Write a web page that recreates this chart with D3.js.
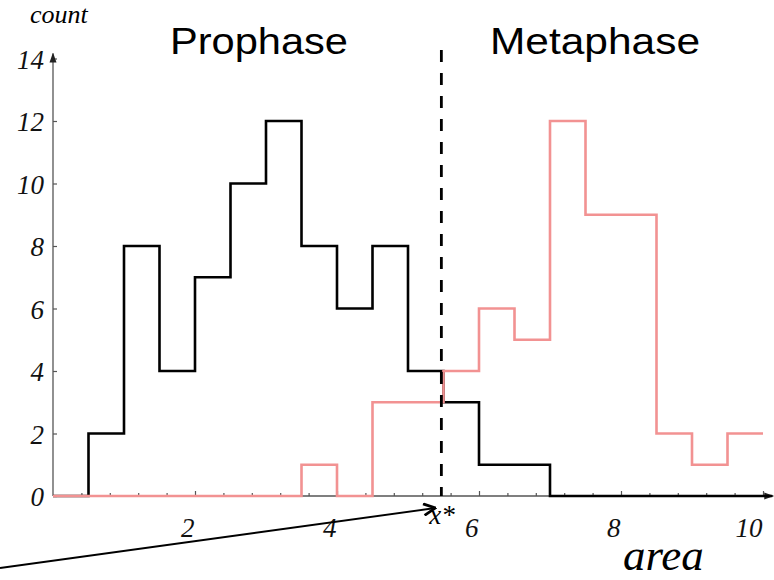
<!DOCTYPE html>
<html>
<head>
<meta charset="utf-8">
<script src="https://cdn.jsdelivr.net/npm/d3@7"></script>
<style>
  body { margin: 0; background: #fff; }
  svg { display: block; }
  .tick text { font-family: "Liberation Serif", "Times New Roman", serif; font-style: italic; font-size: 27px; fill: #111; }
  .tick line { stroke: #555; stroke-width: 1.2; }
</style>
</head>
<body>
<div id="viz"></div>
<script>
// Histograma de áreas: profase vs metafase
let w = 774;
let h = 580;

// bordes de los bins (ancho 0.5)
let binEdges = [0, 0.5, 1, 1.5, 2, 2.5, 3, 3.5, 4, 4.5, 5, 5.5, 6, 6.5, 7, 7.5, 8, 8.5, 9, 9.5, 10];
let profase  = [0, 2, 8, 4, 7, 10, 12, 8, 6, 8, 4, 3, 1, 1, 0, 0, 0, 0, 0, 0];
let metafase = [0, 0, 0, 0, 0, 0, 0, 1, 0, 3, 3, 4, 6, 5, 12, 9, 9, 2, 1, 2];

let xTicksMayores = [2, 4, 6, 8, 10];
let xTicksMenores = [0.4, 0.8, 1.2, 1.6, 2.4, 2.8, 3.2, 3.6, 4.4, 4.8, 5.2, 5.6, 6.4, 6.8, 7.2, 7.6, 8.4, 8.8, 9.2, 9.6];
let yTicks = [0, 2, 4, 6, 8, 10, 12, 14];
let xEstrella = 5.47;

let svg = d3.select('#viz')
    .append('svg')
        .attr('width', w)
        .attr('height', h);

let x = d3.scaleLinear().domain([0, 10]).range([53, 763]);
let y = d3.scaleLinear().domain([0, 14]).range([496, 58.5]);
let xFin = 10.13;

// puntas de flecha
let defs = svg.append('defs');
defs.append('marker')
    .attr('id', 'punta')
    .attr('viewBox', '0 0 10 10')
    .attr('refX', 9).attr('refY', 5)
    .attr('markerWidth', 10).attr('markerHeight', 10)
    .attr('markerUnits', 'userSpaceOnUse')
    .attr('orient', 'auto')
    .append('path')
        .attr('d', 'M0,1.5 L10,5 L0,8.5 Z')
        .attr('fill', '#222');
defs.append('marker')
    .attr('id', 'chevron')
    .attr('viewBox', '0 0 12 12')
    .attr('refX', 11).attr('refY', 6)
    .attr('markerWidth', 14).attr('markerHeight', 14)
    .attr('markerUnits', 'userSpaceOnUse')
    .attr('orient', 'auto')
    .append('path')
        .attr('d', 'M1,1 L11,6 L1,11')
        .attr('fill', 'none')
        .attr('stroke', '#000')
        .attr('stroke-width', 2.4);

// Eje Y
svg.append('g')
    .attr('transform', `translate(${x(0)},0)`)
    .call(d3.axisLeft(y).tickValues(yTicks).tickSize(-4).tickPadding(9).tickFormat(d3.format('d')))
    .call(g => g.select('.domain').remove())
    .selectAll('text').attr('dy', '0.36em');

svg.append('line')
    .attr('x1', x(0)).attr('y1', y(0))
    .attr('x2', x(0)).attr('y2', y(14) - 5)
    .attr('stroke', '#555').attr('stroke-width', 1.3)
    .attr('marker-end', 'url(#punta)');

// Eje X: ticks menores y mayores
svg.append('g')
    .attr('transform', `translate(0,${y(0)})`)
    .call(d3.axisBottom(x).tickValues(xTicksMenores).tickSize(-3).tickFormat(''))
    .call(g => g.select('.domain').remove());

svg.append('g')
    .attr('transform', `translate(0,${y(0)})`)
    .call(d3.axisBottom(x).tickValues(xTicksMayores).tickSize(-5).tickPadding(22).tickFormat(d3.format('d')))
    .call(g => g.select('.domain').remove())
    .selectAll('text')
        .attr('text-anchor', 'end')
        .attr('dx', '-1');

svg.append('line')
    .attr('x1', x(0)).attr('y1', y(0))
    .attr('x2', x(xFin) + 1).attr('y2', y(0))
    .attr('stroke', '#555').attr('stroke-width', 1.3)
    .attr('marker-end', 'url(#punta)');

let escalon = d3.line()
    .x(d => x(d[0]))
    .y(d => y(d[1]))
    .curve(d3.curveStepAfter);

// Profase (negro)
let puntosProfase = profase.map((c, i) => [binEdges[i], c]);
puntosProfase.push([xFin, 0]);
svg.append('path')
    .datum(puntosProfase)
    .attr('d', escalon)
    .attr('fill', 'none')
    .attr('stroke', '#000')
    .attr('stroke-width', 2.6);

// Metafase (rojo claro)
let puntosMetafase = metafase.map((c, i) => [binEdges[i], c]);
puntosMetafase.push([binEdges[binEdges.length - 1], metafase[metafase.length - 1]]);
svg.append('path')
    .datum(puntosMetafase)
    .attr('d', escalon)
    .attr('fill', 'none')
    .attr('stroke', '#f29292')
    .attr('stroke-width', 2.6);

// Línea de corte x*
svg.append('line')
    .attr('x1', x(xEstrella)).attr('y1', 50)
    .attr('x2', x(xEstrella)).attr('y2', y(0))
    .attr('stroke', '#000')
    .attr('stroke-width', 2.8)
    .attr('stroke-dasharray', '12,11');

// Flecha de anotación hacia x*
svg.append('line')
    .attr('x1', 0).attr('y1', 568)
    .attr('x2', x(xEstrella) - 6).attr('y2', y(0) + 12)
    .attr('stroke', '#000')
    .attr('stroke-width', 1.8)
    .attr('marker-end', 'url(#chevron)');

svg.append('text')
    .attr('x', x(xEstrella) - 12).attr('y', 524)
    .style('font-family', '"Liberation Serif", "Times New Roman", serif')
    .style('font-style', 'italic')
    .style('font-size', '27px')
    .text('x*');

// Etiquetas de ejes
svg.append('text')
    .attr('x', 30).attr('y', 23)
    .style('font-family', '"Liberation Serif", "Times New Roman", serif')
    .style('font-style', 'italic')
    .style('font-size', '26px')
    .text('count');

svg.append('text')
    .attr('x', 623).attr('y', 570)
    .style('font-family', '"Liberation Serif", "Times New Roman", serif')
    .style('font-style', 'italic')
    .style('font-size', '45px')
    .text('area');

// Títulos de las fases
svg.append('text')
    .attr('x', 170).attr('y', 54)
    .attr('textLength', 178)
    .attr('lengthAdjust', 'spacingAndGlyphs')
    .style('font-family', '"Liberation Sans", Arial, sans-serif')
    .style('font-size', '37px')
    .text('Prophase');

svg.append('text')
    .attr('x', 490).attr('y', 54)
    .attr('textLength', 210)
    .attr('lengthAdjust', 'spacingAndGlyphs')
    .style('font-family', '"Liberation Sans", Arial, sans-serif')
    .style('font-size', '37px')
    .text('Metaphase');
</script>
</body>
</html>
